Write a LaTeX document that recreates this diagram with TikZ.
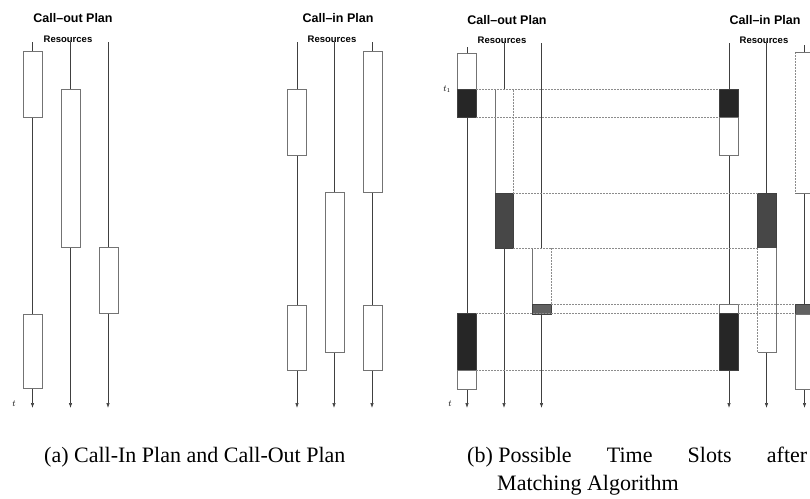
\documentclass[tikz,border=0pt]{standalone}
\usepackage{fontspec}
\setmainfont{Liberation Serif}
\setsansfont{Liberation Sans}
\usetikzlibrary{arrows.meta}
\tikzset{
  res/.style     = {-{Latex[length=5pt,width=3.5pt]}, line width=0.7pt, draw=black!75},
  slot/.style    = {draw=black!55, line width=0.5pt, fill=white},
  busy/.style    = {draw=black!75, line width=0.5pt, fill=black!85},
  rim/.style     = {draw=black!55, line width=0.5pt},
  match/.style   = {draw=black!45, line width=0.5pt, dash pattern=on 2pt off 1pt},
  head/.style    = {font=\sffamily\bfseries\fontsize{12.5}{14}\selectfont, inner sep=0pt},
  sub/.style     = {font=\sffamily\bfseries\fontsize{9.5}{11}\selectfont, inner sep=0pt},
  captxt/.style  = {font=\fontsize{22}{26}\selectfont, anchor=base west, inner sep=0pt},
  tlab/.style    = {font=\fontsize{9}{11}\selectfont, inner sep=0pt}
}
\begin{document}
\begin{tikzpicture}[x=1pt,y=-1pt]
  \useasboundingbox (0,0) rectangle (810,498);
  % (a) call-out and call-in plan
  \node[head] (aoh) at (73,18)  {Call--out Plan};
  \node[sub]  (aor) at (68,39)  {Resources};
  \node[head] (aih) at (338,18) {Call--in Plan};
  \node[sub]  (air) at (332,39) {Resources};
  \draw[res] (32.5,42) -- (32.5,408);
  \draw[res] (70.5,42) -- (70.5,408);
  \draw[res] (108,42)  -- (108,408);
  \draw[slot] (23,51)   rectangle (42,117);
  \draw[slot] (23,314)  rectangle (42,388);
  \draw[slot] (61,89)   rectangle (80,247);
  \draw[slot] (99,247)  rectangle (118,313);
  \draw[res] (297,42) -- (297,408);
  \draw[res] (334,42) -- (334,408);
  \draw[res] (372,42) -- (372,408);
  \draw[slot] (287,89)  rectangle (306,155);
  \draw[slot] (287,305) rectangle (306,370);
  \draw[slot] (325,192) rectangle (344,352);
  \draw[slot] (363,51)  rectangle (382,192);
  \draw[slot] (363,305) rectangle (382,370);
  \node[tlab] (ta) at (14,404) {$t$};
  % (b) possible time slots
  \node[head] (boh) at (507,20)  {Call--out Plan};
  \node[sub]  (bor) at (502,40)  {Resources};
  \node[head] (bih) at (765,20)  {Call--in Plan};
  \node[sub]  (bir) at (764,40)  {Resources};
  \draw[res] (467,47)   -- (467,408);
  \draw[res] (504,43)   -- (504,408);
  \draw[res] (541.5,43) -- (541.5,408);
  \draw[res] (729,43)   -- (729,408);
  \draw[res] (766.5,43) -- (766.5,408);
  \draw[res] (804.5,45) -- (804.5,408);
  \draw[slot] (457,53)    rectangle (476,89.5);
  \draw[busy] (457,89.5)  rectangle (476,117.5);
  \draw[busy] (457,313.5) rectangle (476,370);
  \draw[slot] (457,370)   rectangle (476,389);
  \fill[white] (495,89.5) rectangle (513,193);
  \draw[rim] (495,89.5) -- (495,193);
  \draw[match] (513,89.5) -- (513,193);
  \draw[busy, fill=black!72] (495,193) rectangle (513,248);
  \fill[white] (532,248) rectangle (551,304);
  \draw[rim] (532,248) -- (532,304);
  \draw[match] (551,248) -- (551,304);
  \draw[busy, fill=black!62] (532,304) rectangle (551,314);
  \draw[busy] (719,89.5)  rectangle (738,117.5);
  \draw[slot] (719,117.5) rectangle (738,155.5);
  \draw[slot] (719,304)   rectangle (738,313.5);
  \draw[busy] (719,313.5) rectangle (738,370);
  \draw[busy, fill=black!72] (757.5,193) rectangle (776.5,248);
  \fill[white] (757.5,248) rectangle (776.5,352);
  \draw[match] (757.5,248) -- (757.5,352);
  \draw[rim] (757.5,352) -| (776.5,248);
  \fill[white] (795,52) rectangle (810,193);
  \draw[match] (795,52) -- (795,193);
  \draw[rim] (810,52) -- (795,52) (795,193) -- (810,193);
  \draw[busy, fill=black!62] (795,304) rectangle (812,314);
  \draw[slot] (795,314) rectangle (812,389);
  \draw[match] (476,89.5)  -- (719,89.5);
  \draw[match] (476,117.5) -- (719,117.5);
  \draw[match] (513,193)   -- (757.5,193);
  \draw[match] (513,248)   -- (757.5,248);
  \draw[match] (551,304)   -- (719,304);
  \draw[match] (738,304)   -- (795,304);
  \draw[match] (476,313.5) -- (719,313.5);
  \draw[match] (738,313.5) -- (795,313.5);
  \draw[match] (476,370)   -- (719,370);
  \node[tlab] (t1) at (447,89) {$t_1$};
  \node[tlab] (tb) at (450,404) {$t$};
  % captions
  \node[captxt] (capa) at (44,462)  {(a) Call-In Plan and Call-Out Plan};
  \node[captxt] (capb) at (467,462) {\makebox[340pt][s]{\mbox{(b) Possible} Time Slots after}};
  \node[captxt] (capc) at (497,490) {Matching Algorithm};
\end{tikzpicture}
\end{document}
